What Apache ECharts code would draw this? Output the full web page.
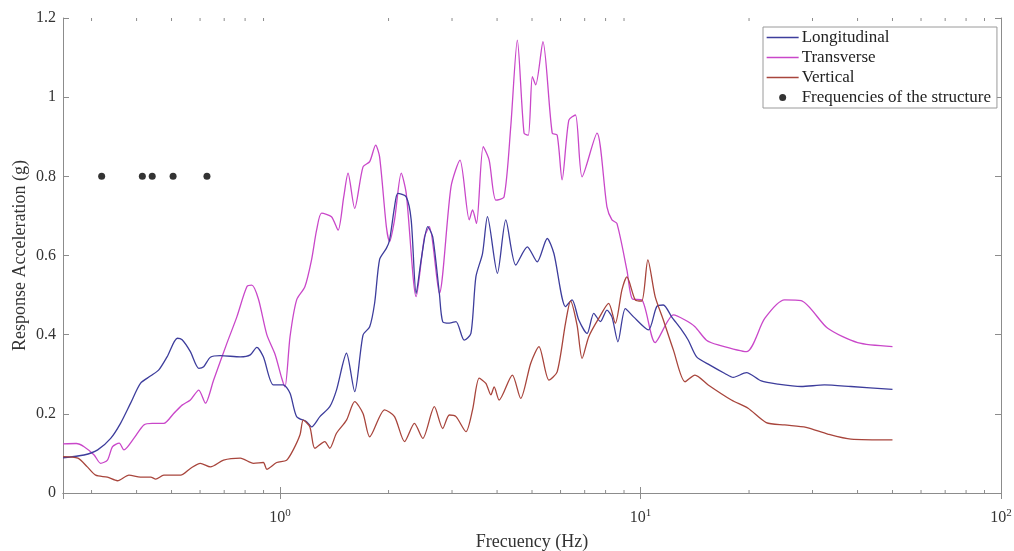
<!DOCTYPE html>
<html><head><meta charset="utf-8">
<script src="https://cdn.jsdelivr.net/npm/echarts@6/dist/echarts.min.js"></script>
<style>html,body{margin:0;padding:0;background:#fff}#c{width:1014px;height:551px}</style>
</head><body><div id="c"></div>
<script>
// Frequency (Hz), response acceleration (g)
const longitudinal = [[0.25,0.089],[0.286,0.096],[0.312,0.109],[0.339,0.138],[0.361,0.176],[0.385,0.227],[0.41,0.277],[0.438,0.296],[0.461,0.311],[0.486,0.344],[0.519,0.391],[0.535,0.387],[0.564,0.357],[0.595,0.315],[0.614,0.319],[0.641,0.343],[0.683,0.347],[0.776,0.344],[0.827,0.349],[0.862,0.368],[0.899,0.344],[0.958,0.273],[1.021,0.273],[1.066,0.252],[1.112,0.193],[1.185,0.18],[1.223,0.167],[1.29,0.193],[1.374,0.218],[1.434,0.26],[1.529,0.353],[1.611,0.256],[1.699,0.399],[1.773,0.42],[1.83,0.48],[1.889,0.59],[1.972,0.618],[2.013,0.639],[2.078,0.723],[2.122,0.757],[2.239,0.748],[2.311,0.69],[2.386,0.504],[2.463,0.589],[2.569,0.673],[2.652,0.647],[2.767,0.504],[2.826,0.433],[2.949,0.429],[3.077,0.433],[3.243,0.386],[3.385,0.403],[3.494,0.546],[3.645,0.605],[3.762,0.698],[4.009,0.555],[4.229,0.69],[4.507,0.576],[4.852,0.622],[5.17,0.584],[5.511,0.643],[5.751,0.605],[6.194,0.471],[6.46,0.488],[6.742,0.437],[7.108,0.403],[7.417,0.454],[7.74,0.433],[8.07,0.462],[8.332,0.445],[8.657,0.382],[9.074,0.466],[9.565,0.445],[10.52,0.412],[11.09,0.471],[11.57,0.475],[12.2,0.445],[13.0,0.412],[13.57,0.386],[14.31,0.344],[15.58,0.323],[17.14,0.302],[18.07,0.292],[19.67,0.304],[21.63,0.283],[24.05,0.275],[27.9,0.269],[32.37,0.273],[38.35,0.269],[50,0.262]];
const transverse = [[0.25,0.124],[0.272,0.125],[0.286,0.117],[0.305,0.096],[0.318,0.075],[0.332,0.083],[0.343,0.117],[0.358,0.126],[0.369,0.109],[0.393,0.138],[0.419,0.172],[0.442,0.176],[0.476,0.176],[0.507,0.201],[0.535,0.222],[0.564,0.235],[0.595,0.26],[0.621,0.227],[0.654,0.285],[0.712,0.378],[0.759,0.445],[0.809,0.521],[0.835,0.525],[0.871,0.49],[0.919,0.4],[0.969,0.35],[1.011,0.29],[1.032,0.268],[1.066,0.395],[1.112,0.488],[1.172,0.521],[1.223,0.589],[1.263,0.664],[1.304,0.707],[1.389,0.698],[1.449,0.664],[1.502,0.748],[1.544,0.808],[1.611,0.719],[1.699,0.824],[1.773,0.837],[1.842,0.879],[1.889,0.849],[1.972,0.673],[2.013,0.635],[2.078,0.69],[2.169,0.808],[2.239,0.757],[2.386,0.496],[2.516,0.647],[2.596,0.673],[2.767,0.504],[2.981,0.774],[3.157,0.841],[3.349,0.69],[3.42,0.715],[3.508,0.681],[3.661,0.875],[3.803,0.841],[3.969,0.74],[4.183,0.748],[4.365,0.925],[4.553,1.144],[4.752,0.909],[4.884,0.904],[5.01,1.052],[5.12,1.031],[5.362,1.14],[5.689,0.909],[5.872,0.904],[6.06,0.791],[6.326,0.942],[6.6,0.955],[6.885,0.799],[7.574,0.909],[8.07,0.723],[8.332,0.69],[8.6,0.681],[9.168,0.563],[9.5,0.49],[10.08,0.488],[10.98,0.38],[12.34,0.45],[13.29,0.437],[14.16,0.42],[15.24,0.386],[16.42,0.374],[19.67,0.357],[22.11,0.441],[25.1,0.488],[27.9,0.486],[33.06,0.416],[40.02,0.38],[50,0.37]];
const vertical = [[0.25,0.092],[0.275,0.088],[0.292,0.066],[0.308,0.045],[0.332,0.04],[0.354,0.031],[0.381,0.045],[0.41,0.04],[0.438,0.04],[0.452,0.035],[0.476,0.045],[0.53,0.045],[0.564,0.062],[0.601,0.075],[0.641,0.066],[0.697,0.083],[0.776,0.088],[0.844,0.075],[0.899,0.077],[0.919,0.06],[0.979,0.077],[1.043,0.083],[1.088,0.109],[1.136,0.147],[1.16,0.184],[1.21,0.167],[1.249,0.113],[1.331,0.13],[1.374,0.113],[1.434,0.151],[1.529,0.184],[1.611,0.231],[1.699,0.201],[1.773,0.142],[1.95,0.21],[2.078,0.193],[2.215,0.13],[2.36,0.176],[2.489,0.138],[2.68,0.218],[2.826,0.163],[2.949,0.197],[3.077,0.193],[3.28,0.155],[3.42,0.21],[3.568,0.29],[3.724,0.277],[3.845,0.248],[3.927,0.268],[4.053,0.235],[4.411,0.298],[4.652,0.239],[4.96,0.328],[5.227,0.37],[5.57,0.285],[5.872,0.306],[6.194,0.429],[6.395,0.485],[6.668,0.424],[6.885,0.34],[7.185,0.395],[7.656,0.441],[8.159,0.479],[8.513,0.429],[8.88,0.513],[9.168,0.546],[9.669,0.488],[10.08,0.485],[10.48,0.589],[10.98,0.496],[11.57,0.437],[12.34,0.361],[13.29,0.281],[14.16,0.298],[15.41,0.273],[17.87,0.235],[19.88,0.214],[22.33,0.178],[25.1,0.172],[28.8,0.166],[33.06,0.149],[38.35,0.136],[50,0.134]];
const structureFreqs = [0.32, 0.415, 0.442, 0.505, 0.627];
const structureLevel = 0.8;
const xRange = [0.25, 100];
const yRange = [0, 1.2];
const yInterval = 0.2;
const xMinorTicks = [0.3,0.4,0.5,0.6,0.7,0.8,0.9,2,3,4,5,6,7,8,9,20,30,40,50,60,70,80,90];

const FONT = '"Liberation Serif", "Times New Roman", serif';
const AX = '#8c8c8c';
const TXT = '#333';
const C_LONG = '#3d3d9c', C_TRANS = '#c947c9', C_VERT = '#a8453c';

function isPow10(v){ const l = Math.log10(v); return Math.abs(l - Math.round(l)) < 1e-6; }

const chart = echarts.init(document.getElementById('c'), null, {renderer:'canvas'});
const xCommon = {
  type:'log', logBase:10, min:xRange[0], max:xRange[1], splitNumber:2,
  axisLine:{show:true, lineStyle:{color:AX, width:1}},
  axisTick:{show:true, inside:true, length:6, lineStyle:{color:AX}},
  splitLine:{show:false}, minorTick:{show:false}
};
const yCommon = {
  type:'value', min:yRange[0], max:yRange[1], interval:yInterval,
  axisLine:{show:true, lineStyle:{color:AX, width:1}},
  axisTick:{show:true, inside:true, length:6, lineStyle:{color:AX}},
  splitLine:{show:false}
};
const noDot = {color:'rgba(0,0,0,0)', borderWidth:0, borderColor:'rgba(0,0,0,0)'};
chart.setOption({
  animation:false,
  backgroundColor:'#fff',
  grid:{left:63, right:13, top:18, bottom:58, containLabel:false, outerBoundsMode:'none'},
  xAxis:[
    Object.assign({}, xCommon, {
      position:'bottom',
      name:'Frecuency (Hz)', nameLocation:'middle', nameGap:40, nameMoveOverlap:false,
      nameTextStyle:{fontFamily:FONT, fontSize:18, color:TXT},
      axisLabel:{show:true, margin:15, color:TXT, fontFamily:FONT,
        formatter:function(v){ if(!isPow10(v)) return ''; return '{b|10}{s|' + Math.round(Math.log10(v)) + '}'; },
        rich:{ b:{fontSize:16, fontFamily:FONT, color:TXT}, s:{fontSize:11, fontFamily:FONT, color:TXT, padding:[0,0,9,0]} }
      }
    }),
    Object.assign({}, xCommon, {position:'top', axisLabel:{show:false}})
  ],
  yAxis:[
    Object.assign({}, yCommon, {
      position:'left',
      name:'Response Acceleration (g)', nameLocation:'middle', nameGap:34, nameMoveOverlap:false,
      nameTextStyle:{fontFamily:FONT, fontSize:18, color:TXT},
      axisLabel:{show:true, margin:7, color:TXT, fontFamily:FONT, fontSize:16,
        formatter:function(v){ return String(Math.round(v*10)/10); } }
    }),
    Object.assign({}, yCommon, {position:'right', axisLabel:{show:false}})
  ],
  legend:{
    orient:'vertical', left:763, top:27,
    backgroundColor:'#fff', borderColor:'#9a9a9a', borderWidth:1, borderRadius:0,
    padding:[2,6,2,3], itemGap:3, itemWidth:32, itemHeight:7,
    textStyle:{fontFamily:FONT, fontSize:17, color:'#222', padding:[0,0,0,-2]},
    data:[
      {name:'Longitudinal', itemStyle:noDot, lineStyle:{color:C_LONG, width:1.3}},
      {name:'Transverse', itemStyle:noDot, lineStyle:{color:C_TRANS, width:1.3}},
      {name:'Vertical', itemStyle:noDot, lineStyle:{color:C_VERT, width:1.3}},
      {name:'Frequencies of the structure', icon:'circle'}
    ]
  },
  series:[
    {name:'Longitudinal', type:'line', data:longitudinal, symbol:'none', smooth:0.25,
      lineStyle:{color:C_LONG, width:1.3}, itemStyle:{color:C_LONG}, z:3},
    {name:'Transverse', type:'line', data:transverse, symbol:'none', smooth:0.25,
      lineStyle:{color:C_TRANS, width:1.3}, itemStyle:{color:C_TRANS}, z:2},
    {name:'Vertical', type:'line', data:vertical, symbol:'none', smooth:0.25,
      lineStyle:{color:C_VERT, width:1.3}, itemStyle:{color:C_VERT}, z:4},
    {name:'Frequencies of the structure', type:'scatter', symbol:'circle', symbolSize:7,
      data:structureFreqs.map(f => [f, structureLevel]), itemStyle:{color:'#000'}, z:5},
    {name:'minorTicks', type:'custom', silent:true, clip:false, z:1,
      data:xMinorTicks.map(v => [v]),
      encode:{x:0},
      renderItem:function(params, api){
        const x = api.value(0);
        const pb = api.coord([x, yRange[0]]);
        const pt = api.coord([x, yRange[1]]);
        return {type:'group', children:[
          {type:'line', shape:{x1:pb[0], y1:pb[1], x2:pb[0], y2:pb[1]-3}, style:{stroke:AX, lineWidth:1}},
          {type:'line', shape:{x1:pt[0], y1:pt[1], x2:pt[0], y2:pt[1]+3}, style:{stroke:AX, lineWidth:1}}
        ]};
      }
    }
  ]
});
</script>
</body></html>
